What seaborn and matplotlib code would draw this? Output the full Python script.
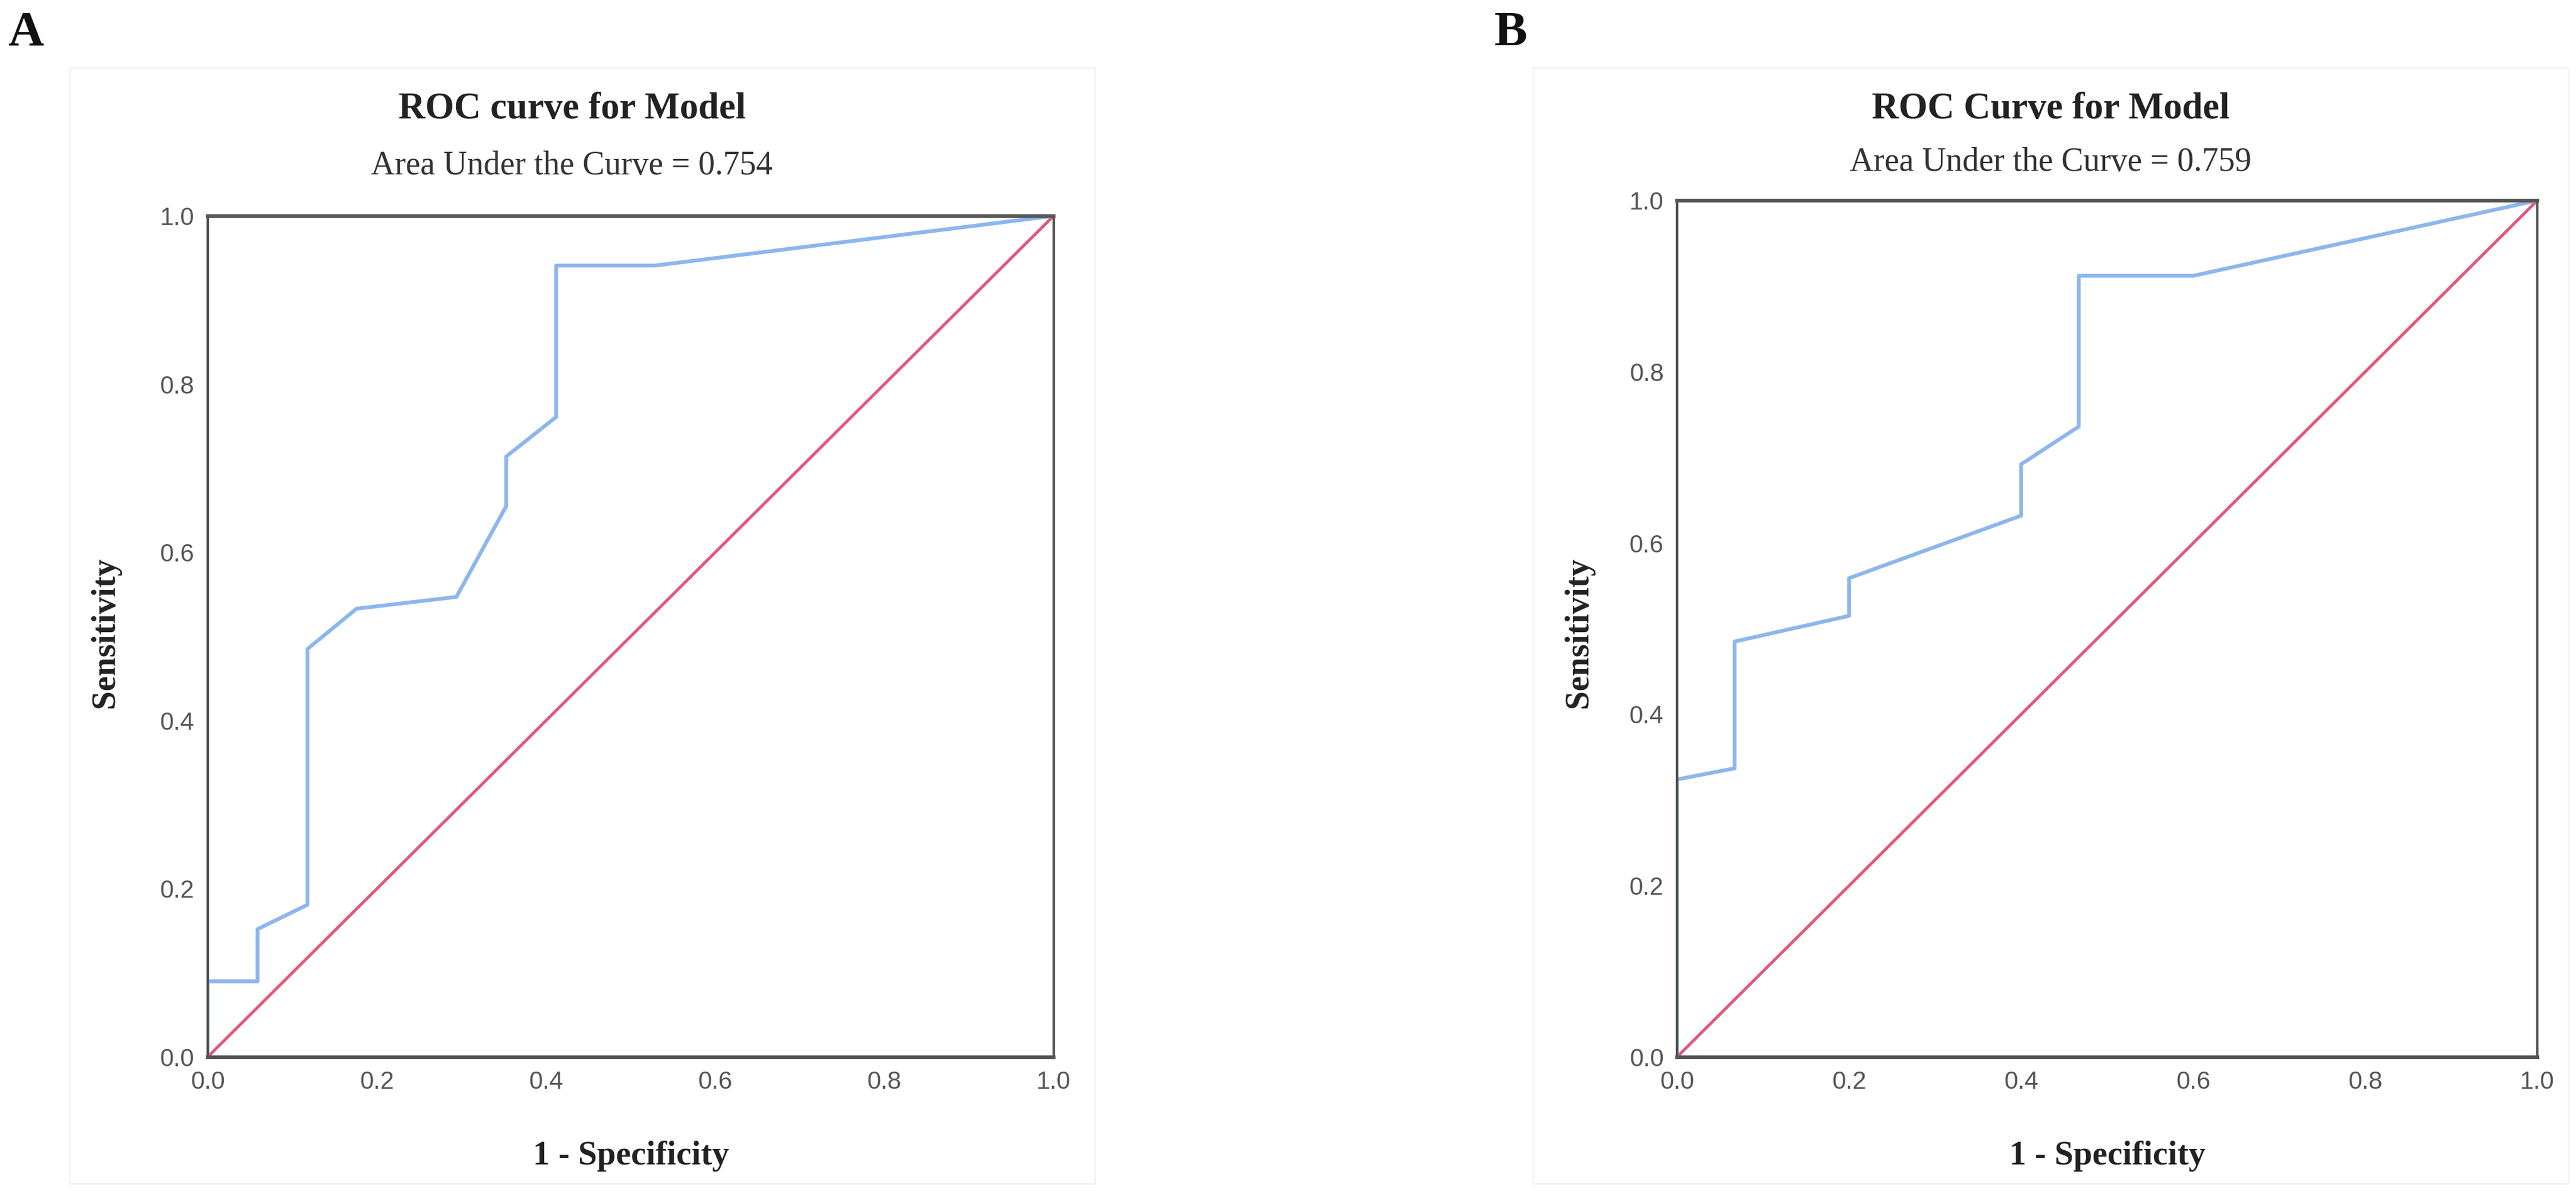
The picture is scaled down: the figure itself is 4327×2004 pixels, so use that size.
import matplotlib
matplotlib.use("Agg")
import matplotlib.pyplot as plt
import seaborn as sns
import pandas as pd
from matplotlib.patches import Rectangle

# ROC points (1 - specificity, sensitivity)
fpr_a = [0.0, 0.0, 0.059, 0.059, 0.118, 0.118, 0.176, 0.294, 0.353, 0.353, 0.412, 0.412, 0.529, 1.0]
tpr_a = [0.0, 0.090, 0.090, 0.152, 0.181, 0.485, 0.533, 0.547, 0.655, 0.714, 0.761, 0.941, 0.941, 1.0]

fpr_b = [0.0, 0.0, 0.067, 0.067, 0.200, 0.200, 0.400, 0.400, 0.467, 0.467, 0.600, 1.0]
tpr_b = [0.0, 0.324, 0.337, 0.485, 0.515, 0.559, 0.632, 0.692, 0.736, 0.912, 0.912, 1.0]

ref_line = [0.0, 1.0]
ticks = [0.0, 0.2, 0.4, 0.6, 0.8, 1.0]
tick_labels = ["0.0", "0.2", "0.4", "0.6", "0.8", "1.0"]

titles = ["ROC curve for Model", "ROC Curve for Model"]
aucs = ["Area Under the Curve = 0.754", "Area Under the Curve = 0.759"]
letters = ["A", "B"]

sns.set_theme(style="white")
plt.rcParams['font.family'] = ['Liberation Serif', 'DejaVu Serif']

blue = "#8db6ec"
red = "#e2587a"

fig = plt.figure(figsize=(43.27, 20.04), dpi=100)

# axes boxes (left, bottom, width, height) in figure fractions
boxes = [(0.0806, 0.114, 0.3284, 0.705), (0.651, 0.114, 0.334, 0.718)]
title_x = [0.222, 0.796]
title_y = [0.908, 0.908]
sub_y = [0.861, 0.864]
ylab_x = [0.041, 0.613]
xlab_x = [0.245, 0.818]
letter_x = [0.003, 0.580]
frames = [(0.027, 0.008, 0.398, 0.935), (0.595, 0.008, 0.402, 0.935)]

curves = [(fpr_a, tpr_a), (fpr_b, tpr_b)]

for i in range(2):
    # faint panel frame like the SPSS chart border
    fx, fy, fw, fh = frames[i]
    fig.patches.append(Rectangle((fx, fy), fw, fh, transform=fig.transFigure,
                                 fill=False, edgecolor="#f3f3f3", lw=2))

    ax = fig.add_axes(boxes[i])
    df = pd.DataFrame({"x": curves[i][0], "y": curves[i][1]})
    ref = pd.DataFrame({"x": ref_line, "y": ref_line})
    sns.lineplot(data=ref, x="x", y="y", ax=ax, color=red, linewidth=3.6,
                 sort=False, estimator=None)
    sns.lineplot(data=df, x="x", y="y", ax=ax, color=blue, linewidth=4.6,
                 sort=False, estimator=None)

    ax.set_xlim(0, 1)
    ax.set_ylim(0, 1)
    ax.set_xticks(ticks)
    ax.set_yticks(ticks)
    ax.set_xticklabels(tick_labels, family="Liberation Sans", color="#555555")
    ax.set_yticklabels(tick_labels, family="Liberation Sans", color="#555555")
    ax.tick_params(axis="both", length=0, labelsize=30, pad=16)
    ax.set_xlabel("")
    ax.set_ylabel("")
    for side in ["top", "bottom"]:
        ax.spines[side].set_linewidth(4.5)
        ax.spines[side].set_color("#555555")
    for side in ["left", "right"]:
        ax.spines[side].set_linewidth(3)
        ax.spines[side].set_color("#555555")

    fig.text(title_x[i], title_y[i], titles[i], ha="center", va="center",
             fontsize=45, fontweight="bold", color="#222222")
    fig.text(title_x[i], sub_y[i], aucs[i], ha="center", va="center",
             fontsize=40, color="#333333")
    fig.text(ylab_x[i], 0.47, "Sensitivity", ha="center", va="center",
             rotation=90, fontsize=41, fontweight="bold", color="#222222")
    fig.text(xlab_x[i], 0.031, "1 - Specificity", ha="center", va="center",
             fontsize=41, fontweight="bold", color="#222222")
    fig.text(letter_x[i], 0.972, letters[i], ha="left", va="center",
             fontsize=60, fontweight="bold", color="#111111")

fig.savefig("out.png", dpi=100, facecolor="white")
